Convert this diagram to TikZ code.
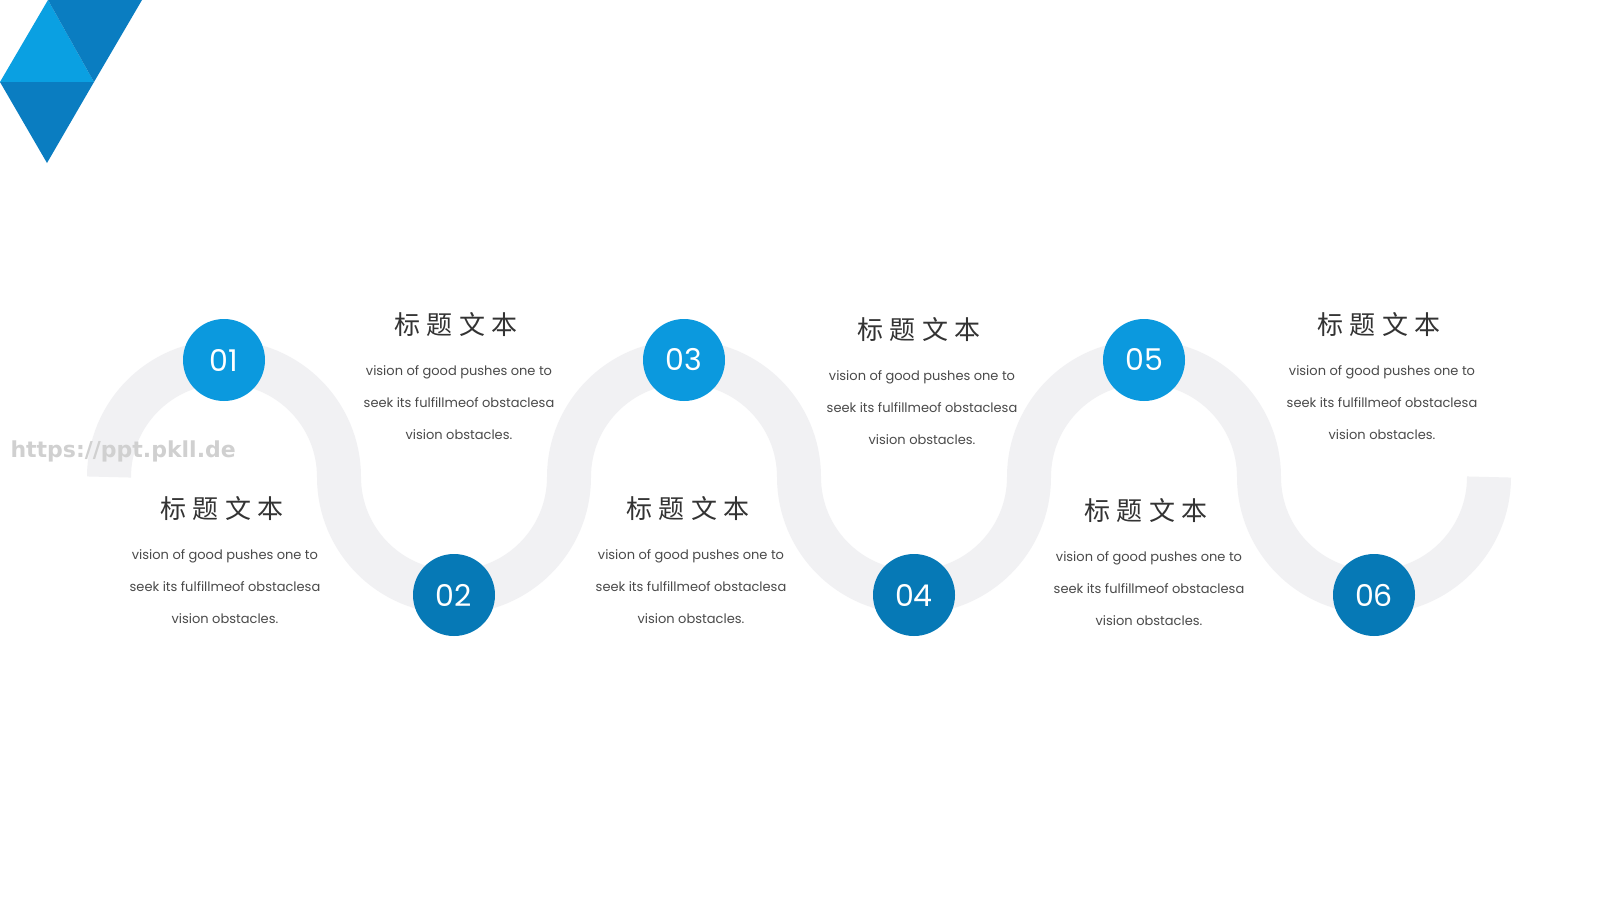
\documentclass[tikz,border=0pt]{standalone}
\usepackage{fontspec}
\setmainfont{Poppins}
\newfontfamily\cjk[LetterSpace=25]{Noto Sans CJK SC}
\newfontfamily\markfont{DejaVu Sans}
\usepackage{tikz}
\usetikzlibrary{positioning}
\definecolor{lightblue}{HTML}{0B99DE}
\definecolor{darkblue}{HTML}{0679B6}
\definecolor{trilight}{HTML}{0AA0E2}
\definecolor{tridark}{HTML}{0A7DC1}
\definecolor{bandgray}{HTML}{F1F1F3}
\definecolor{titlegray}{HTML}{333333}
\definecolor{bodygray}{HTML}{4A4A4A}
\definecolor{markgray}{HTML}{D0D0D0}
\tikzstyle{band} = [line width=44pt, draw=bandgray]
\tikzstyle{numdot} = [circle, minimum size=82pt, inner sep=0pt, text=white,
    font=\fontsize{30}{30}\selectfont]
\tikzstyle{headline} = [inner sep=0pt, text=titlegray, font=\cjk\fontsize{26}{26}\selectfont]
\tikzstyle{blurb} = [inner sep=0pt, align=center, text=bodygray, xshift=3pt,
    font=\fontsize{13}{32}\selectfont]

\begin{document}
\begin{tikzpicture}[x=1pt, y=-1pt, node distance=28pt]
\useasboundingbox [fill=white] (0,0) rectangle (1600,900);

% corner triangles
\fill [trilight] (48,0) -- (0,82) -- (94,82) -- cycle;
\fill [tridark] (48,0) -- (142,0) -- (94,82) -- cycle;
\fill [tridark] (0,82) -- (94,82) -- (47,163) -- cycle;

% wavy band
\draw [band] (109,477) \foreach \k in {1,2,3} {
    arc[start angle=180, end angle=360, radius=115]
    arc[start angle=180, end angle=0, radius=115]};

\node (wm) [text=markgray, font=\markfont\bfseries\fontsize{22}{22}\selectfont,
    anchor=west] at (7,451) {https://ppt.pkll.de};

% numbered dots
\node (c1) [numdot, fill=lightblue] at (224,360) {01};
\node (c2) [numdot, fill=darkblue] at (454,595) {02};
\node (c3) [numdot, fill=lightblue] at (684,360) {03};
\node (c4) [numdot, fill=darkblue] at (914,595) {04};
\node (c5) [numdot, fill=lightblue] at (1144,360) {05};
\node (c6) [numdot, fill=darkblue] at (1374,595) {06};

% titles
\node (t1) [headline] at (222,509) {标题文本};
\node (t2) [headline] at (456,325) {标题文本};
\node (t3) [headline] at (688,509) {标题文本};
\node (t4) [headline] at (919,330) {标题文本};
\node (t5) [headline] at (1146,511) {标题文本};
\node (t6) [headline] at (1379,325) {标题文本};

% texts
\node (b1) [blurb, below=of t1] {vision of good pushes one to\\seek its fulfillmeof obstaclesa\\vision obstacles.};
\node (b2) [blurb, below=of t2] {vision of good pushes one to\\seek its fulfillmeof obstaclesa\\vision obstacles.};
\node (b3) [blurb, below=of t3] {vision of good pushes one to\\seek its fulfillmeof obstaclesa\\vision obstacles.};
\node (b4) [blurb, below=of t4] {vision of good pushes one to\\seek its fulfillmeof obstaclesa\\vision obstacles.};
\node (b5) [blurb, below=of t5] {vision of good pushes one to\\seek its fulfillmeof obstaclesa\\vision obstacles.};
\node (b6) [blurb, below=of t6] {vision of good pushes one to\\seek its fulfillmeof obstaclesa\\vision obstacles.};
\end{tikzpicture}
\end{document}
